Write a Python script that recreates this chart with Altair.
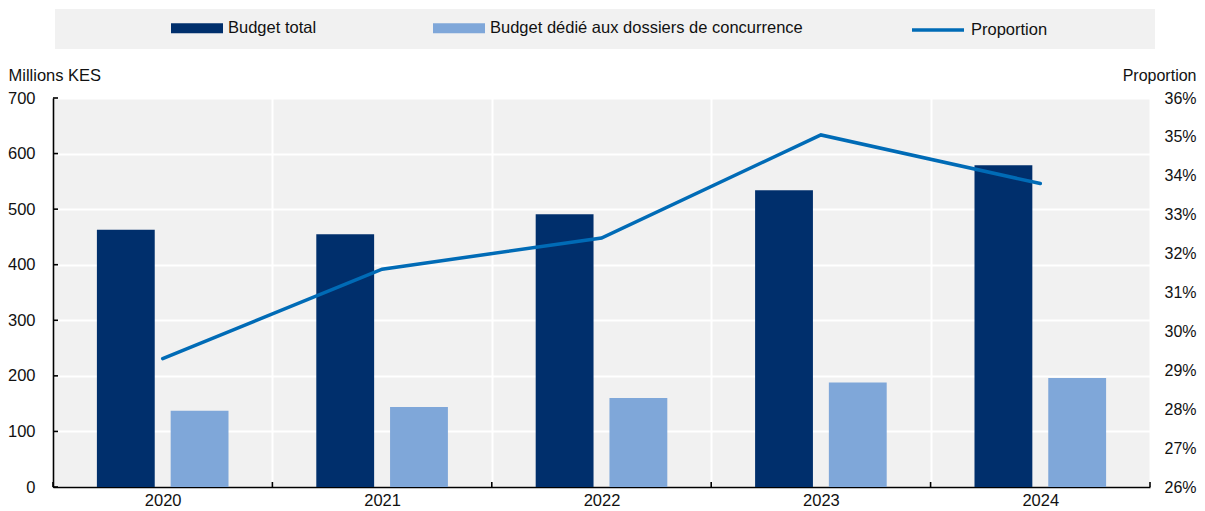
import altair as alt
import pandas as pd

years = ["2020", "2021", "2022", "2023", "2024"]
budget_total = [463, 455, 491, 534, 579]
budget_concurrence = [137, 144, 160, 188, 196]
proportion = [0.293, 0.316, 0.324, 0.3505, 0.338]
left_ticks = [0, 100, 200, 300, 400, 500, 600, 700]
right_ticks = [0.26, 0.27, 0.28, 0.29, 0.30, 0.31, 0.32, 0.33, 0.34, 0.35, 0.36]

S1 = "Budget total"
S2 = "Budget dédié aux dossiers de concurrence"
S3 = "Proportion"

bars_df = pd.DataFrame({
    "year": years * 2,
    "series": [S1] * 5 + [S2] * 5,
    "value": budget_total + budget_concurrence,
})
line_df = pd.DataFrame({"year": years, "series": [S3] * 5, "value": proportion})
yticks_df = pd.DataFrame({"v": left_ticks})
xticks_df = pd.DataFrame({"year": years})
xend_df = pd.DataFrame({"year": years[-1:]})

FONT = "Liberation Sans, Arial, sans-serif"
FS = 16.5
TXT = "#111111"
GREY = "#f1f1f1"
W = 1097
H = 389

x_scale = alt.Scale(paddingInner=0, paddingOuter=0)

bar_legend = alt.Legend(
    title=None, orient="none", legendX=118, legendY=-96, direction="horizontal",
    symbolSize=2704, symbolType="M-1,-0.19L1,-0.19L1,0.19L-1,0.19Z", symbolStrokeWidth=0,
    labelOffset=5, columnPadding=116, padding=0, symbolOpacity=1,
    labelFont=FONT, labelFontSize=FS, labelColor=TXT, labelLimit=500,
)
line_legend = alt.Legend(
    title=None, orient="none", legendX=857, legendY=-96, direction="horizontal",
    symbolSize=2704, symbolType="stroke", symbolStrokeWidth=3.5,
    labelOffset=5, padding=0,
    labelFont=FONT, labelFontSize=FS, labelColor=TXT, labelLimit=500,
)

x_enc = alt.X("year:N", scale=x_scale, axis=alt.Axis(
    title=None, labelAngle=0, tickBand="extent", grid=True, gridColor="white", gridWidth=2,
    domainColor="black", domainWidth=1.6, ticks=False,
    labelPadding=5, labelFont=FONT, labelFontSize=FS, labelColor=TXT,
))

bg = alt.Chart(pd.DataFrame({"a": [0]})).mark_rect(color=GREY).encode(
    x=alt.value(2), x2=alt.value(1102), y=alt.value(-89), y2=alt.value(-49)
)

bars = alt.Chart(bars_df).mark_bar().encode(
    x=x_enc,
    xOffset=alt.XOffset("series:N", scale=alt.Scale(domain=[S1, S2], paddingInner=0.216, paddingOuter=0.595)),
    y=alt.Y("value:Q", scale=alt.Scale(domain=[0, 700]), axis=alt.Axis(
        title="Millions KES", titleAngle=0, titleAlign="left", titleX=-45, titleY=-18,
        titleBaseline="alphabetic", titleFont=FONT, titleFontSize=FS, titleFontWeight="normal",
        titleColor=TXT, values=left_ticks, grid=True, gridColor="white", gridWidth=2,
        domainColor="black", domainWidth=1.6, ticks=False,
        labelPadding=18, labelFont=FONT, labelFontSize=FS, labelColor=TXT,
    )),
    color=alt.Color("series:N", scale=alt.Scale(domain=[S1, S2], range=["#002f6c", "#7fa7d9"]),
                    legend=bar_legend),
)

line = alt.Chart(line_df).mark_line(strokeWidth=3.5, strokeCap="round").encode(
    x=alt.X("year:N", scale=x_scale),
    y=alt.Y("value:Q", scale=alt.Scale(domain=[0.26, 0.36]), axis=alt.Axis(
        orient="right", format=".0%", values=right_ticks, title="Proportion", titleAngle=0,
        titleAlign="right", titleX=46, titleY=-18, titleBaseline="alphabetic",
        titleFont=FONT, titleFontSize=16, titleFontWeight="normal", titleColor=TXT,
        grid=False, domain=False, ticks=False, labelPadding=14,
        labelFont=FONT, labelFontSize=16, labelColor=TXT,
    )),
    stroke=alt.Stroke("series:N", scale=alt.Scale(domain=[S3], range=["#006bb6"]),
                      legend=line_legend),
)

ytick_marks = alt.Chart(yticks_df).mark_rule(color="black", strokeWidth=1.6).encode(
    y=alt.Y("v:Q", scale=alt.Scale(domain=[0, 700]), axis=None),
    x=alt.value(0), x2=alt.value(5),
)
xtick_marks = alt.Chart(xticks_df).mark_rule(color="black", strokeWidth=1.6).encode(
    x=alt.X("year:N", scale=x_scale, bandPosition=0),
    y=alt.value(H - 5), y2=alt.value(H),
)
xend_mark = alt.Chart(xend_df).mark_rule(color="black", strokeWidth=1.6).encode(
    x=alt.X("year:N", scale=x_scale, bandPosition=1),
    y=alt.value(H - 5), y2=alt.value(H),
)

chart = alt.layer(bg, bars, line, ytick_marks, xtick_marks, xend_mark).resolve_scale(
    y="independent", color="independent"
).properties(
    width=W, height=H,
    autosize=alt.AutoSizeParams(type="none"),
    padding={"left": 45, "top": 90, "right": 47, "bottom": 24},
).configure_view(fill=GREY, strokeWidth=0)

chart.save("out.html", embed_options={"renderer": "svg", "actions": False})
